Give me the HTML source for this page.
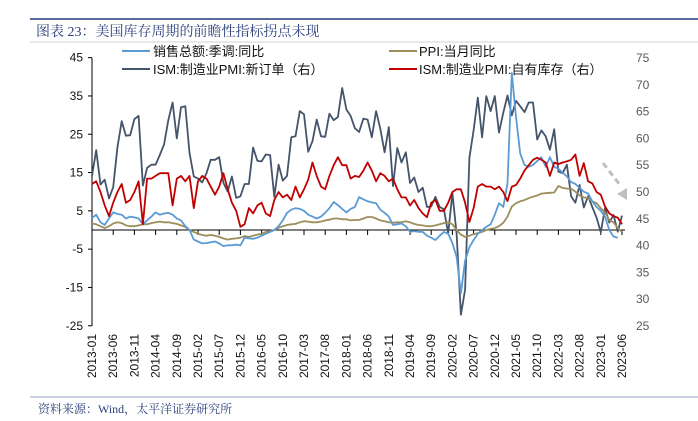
<!DOCTYPE html>
<html><head><meta charset="utf-8"><style>
body{margin:0;background:#fff;width:698px;height:421px;overflow:hidden;font-family:"Liberation Sans","Noto Sans CJK SC",sans-serif;}
svg{display:block}
</style></head><body>
<svg id="chart" width="698" height="421">
<line x1="30" y1="19" x2="698" y2="19" stroke="#5b6a9a" stroke-width="2"/>
<text x="36" y="36" font-size="14" fill="#2b3f7a" font-family="'Liberation Serif','Noto Serif CJK SC',serif">图表 23：美国库存周期的前瞻性指标拐点未现</text>
<line x1="30" y1="42" x2="698" y2="42" stroke="#cfcfd8" stroke-width="1"/>
<line x1="30" y1="397" x2="698" y2="397" stroke="#9aa3c4" stroke-width="1"/>
<text x="38" y="413" font-size="12" fill="#2b3f7a" font-family="'Liberation Serif','Noto Serif CJK SC',serif">资料来源：Wind，太平洋证券研究所</text>
<g font-size="13" fill="#111">
<g><line x1="122" y1="51" x2="150" y2="51" stroke="#5b9bd5" stroke-width="2"/><text x="153" y="56">销售总额:季调:同比</text></g>
<g><line x1="389" y1="51" x2="417" y2="51" stroke="#9c8f5c" stroke-width="2"/><text x="419" y="56">PPI:当月同比</text></g>
<g><line x1="122" y1="69" x2="150" y2="69" stroke="#44546a" stroke-width="2"/><text x="153" y="74">ISM:制造业PMI:新订单（右）</text></g>
<g><line x1="389" y1="69" x2="417" y2="69" stroke="#c00000" stroke-width="2"/><text x="419" y="74">ISM:制造业PMI:自有库存（右）</text></g>
</g>
<g id="axes"></g>
<g id="series"></g>
<g>
<line x1="603" y1="163" x2="620" y2="185" stroke="#bfbfbf" stroke-width="3" stroke-dasharray="6,4"/>
<polygon points="617,194 627,188 627,200" fill="#bfbfbf"/>
</g>
</svg>
<script>
const startYear = 2013, startMonth = 1;
const leftTicks = [45,35,25,15,5,-5,-15,-25];
const rightTicks = [75,70,65,60,55,50,45,40,35,30,25];
const sales = [3.1,4,2,1.3,3,4.6,4.2,4,3,3.5,3.3,3,
1.5,2.5,3.5,4.6,4,4.3,4.5,4,3,2.5,1,0,
-2.5,-3,-3.5,-3.4,-3.2,-3,-3.5,-4.2,-4,-4,-3.8,-4,
-2,-2.2,-2.3,-2,-1.5,-1,-0.5,0,1,2.5,4.5,5.3,
5.7,5.5,5,4,3.5,3,3.5,4.5,5.7,7.3,6.5,5.5,
4.6,5.5,6,8.6,8,7.5,7.2,7,5.3,4.5,3.5,1.3,
1.5,1.7,1,-0.5,-0.3,-0.5,-0.5,-1.5,-2,-2.6,-1.5,-0.5,
-1,-3.4,-7,-16.5,-8,-4.5,-2.6,-1,0,0.8,1.5,4,
7,6,12.2,41,29.5,20,17,16.5,17,18,19,16.5,
19,16.5,16,15,14,12.5,12,11,10,9.5,7.5,6,
5,3.5,0,-1.7,-2,null];
const ppi = [1.7,1.5,1,0.5,1,1.7,2,1.8,1.2,1,1,1.2,
1.5,1.5,1.8,2,2.2,2,2,1.8,1.6,1.2,0.8,0,
-0.5,-1,-1.3,-1.5,-1.3,-1.5,-1.8,-2.2,-2.5,-2.3,-2.2,-2,
-1.6,-1.8,-1.5,-1.2,-1,-0.5,-0.3,0,0.6,1,1.3,1.5,
1.6,2,2.3,2.2,2,2,2.2,2.5,2.7,3,3,2.8,
2.8,2.5,2.6,2.6,3,3.4,3.4,3,2.5,2.3,2,1.9,
2,2,2.3,2,1.6,1.3,1.2,1,1,1.2,1.5,1.8,
2,1.5,0,-1.2,-1.8,-1.5,-1.1,-0.8,-0.5,0,0.3,0.5,
1,1.9,3.5,6.1,7,7.5,7.8,8.3,8.7,9,9.5,9.6,
9.7,9.8,11.5,11,10.8,10.8,10,9,8.5,8.3,7.5,7,
5.7,4.6,2.6,2,0.5,-0.5];
const newOrders = [53,57.8,51.4,52.3,48.8,50.9,58.3,63.2,60.5,60.6,63.6,64.2,
51.2,54.5,55.1,55.1,56.9,58.9,63.4,66.7,60,65.8,66,57.3,
52.9,52.5,51.8,53.5,56,56,56.5,51.7,50.1,52.9,48.9,49.2,
51.5,51.5,58.3,55.8,55.7,57,56.9,49.1,55.1,52.1,53,60.2,
60.4,65.1,64.5,57.5,59.5,63.5,60.4,60.3,64.6,63.4,64,69.4,
65.4,64.2,61.9,61.2,63.7,63.5,60.2,65.1,61.8,57.4,62.1,51.1,
58.2,55.5,57.4,51.7,52.7,50,50.8,47.2,47.3,49.1,47.2,46.8,
42.3,49.8,42.2,27.1,31.8,56.4,61.5,67.6,60.2,67.9,65.1,67.9,
61.1,64.8,68,64.3,67,66,64.9,66.7,66.7,59.8,61.5,60.4,
57.9,61.7,53.8,53.5,55.1,49.2,48,51.3,47.1,49.2,47.2,45.2,
42.5,47,44.3,45.7,42.6,45.6];
const inventories = [51.5,52,50,47.5,45.5,48,50,51.5,48,48.5,50,52,
44,52.5,52.5,53,53.5,53.5,53.5,47.5,52.5,53,52,53,
47,52,53,52.5,51,49.5,51,53.5,50.5,48,46.5,43.5,
44,47,46,47.5,48,46,45.5,48.5,50,49,49.5,48.5,
51,49,50.5,52.3,55.5,53,51,50.5,53,55,56.5,55,
55,52.5,53,52.8,54,55.5,54,52,53.5,53,52,52.5,
50.5,49,49,47.5,48.5,47,46,45.3,48,48.5,46.5,46.5,
48,50,50.5,50.5,48,44.4,47,51,51.5,51,51,50.5,
51,50,48.3,51,51.3,52.5,54,55,56,56.4,56,55.5,
53,55.5,55.2,55.5,55.7,56,57,53,55.4,52,51.6,50,
49.5,47.3,46,45.5,45.2,44];

const X0=92, DX=4.24, N=newOrders.length;
const x = i => X0 + DX*i;
const yL = v => 230 - v*3.83;
const yR = v => 58 + (75-v)*5.36;
const NS="http://www.w3.org/2000/svg";
function mk(tag, attrs, parent){const e=document.createElementNS(NS,tag);for(const k in attrs)e.setAttribute(k,attrs[k]);parent.appendChild(e);return e;}
const axes=document.getElementById('axes'), series=document.getElementById('series');

const la=mk('line',{x1:X0,y1:58,x2:X0,y2:326,stroke:'#000','stroke-width':1},axes);


leftTicks.forEach(v=>{
  mk('line',{x1:X0-4,y1:yL(v),x2:X0,y2:yL(v),stroke:'#000'},axes);
  const t=mk('text',{x:X0-9,y:yL(v)+4,'font-size':12,'text-anchor':'end',fill:'#111'},axes);
  t.textContent=v;
  
  
});
rightTicks.forEach(v=>{
  const t=mk('text',{x:636,y:yR(v)+4,'font-size':12,fill:'#595959'},axes);
  t.textContent=v;
  
  
});
const za=mk('line',{x1:X0,y1:yL(0),x2:x(N-1)+3,y2:yL(0),stroke:'#000','stroke-width':1},axes);


for(let i=0;i<N;i+=5){
  mk('line',{x1:x(i),y1:yL(0),x2:x(i),y2:yL(0)+5,stroke:'#000'},axes);
  const yr=startYear+Math.floor((startMonth-1+i)/12), mo=(startMonth-1+i)%12+1;
  const lbl=yr+'-'+String(mo).padStart(2,'0');
  const t=mk('text',{x:0,y:0,'font-size':12,'text-anchor':'end',fill:'#111',transform:`translate(${x(i)+4},334) rotate(-90)`},axes);
  t.textContent=lbl;
  
  
}
function line(arr, yf, color, name, w){
  let d='';let started=false;
  arr.forEach((v,i)=>{if(v===null)return;d+=(started?'L':'M')+x(i).toFixed(1)+','+yf(v).toFixed(1);started=true;});
  const p=mk('path',{d:d,fill:'none',stroke:color,'stroke-width':w,'stroke-linejoin':'round'},series);
  
  
}
line(newOrders,yR,'#44546a','new-orders-line',1.8);
line(ppi,yL,'#9c8f5c','ppi-line',1.8);
line(sales,yL,'#5b9bd5','sales-line',1.8);
line(inventories,yR,'#c00000','inventories-line',1.8);
</script>
</body></html>
